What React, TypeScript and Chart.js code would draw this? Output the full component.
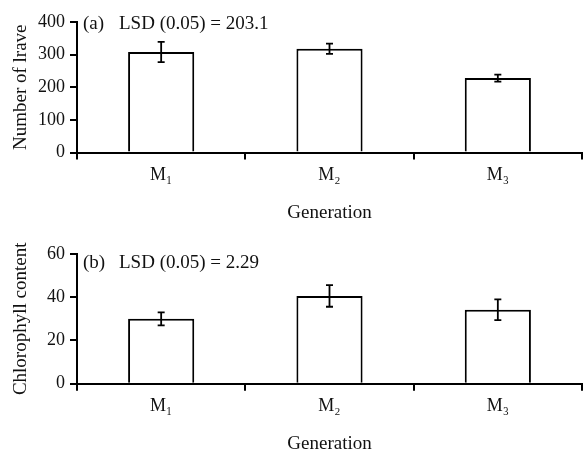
import React, { useEffect, useRef } from "react";
import { Chart, registerables } from "chart.js";
Chart.register(...registerables);

const categories = ["M₁", "M₂", "M₃"];
const larvaeMeans = [308, 318, 228];
const larvaeErrors = [31, 16, 11];
const chlorophyllMeans = [30, 40.6, 34.2];
const chlorophyllErrors = [3, 5, 4.8];
const larvaeTickStep = 100;
const larvaeMax = 400;
const chlorophyllTickStep = 20;
const chlorophyllMax = 60;
const panelTags = ["(a)", "(b)"];
const lsdTexts = ["LSD (0.05) = 203.1", "LSD (0.05) = 2.29"];
const yTitles = ["Number of lrave", "Chlorophyll content"];
const xTitle = "Generation";

const FONT = "'Liberation Serif', 'Times New Roman', serif";
const INK = "#111";

const errorBarPlugin = {
  id: "errorBars",
  afterDatasetsDraw(chart: any, _args: any, opts: any) {
    const meta = chart.getDatasetMeta(0);
    const ds = chart.data.datasets[0];
    const y = chart.scales.y;
    const ctx = chart.ctx;
    ctx.save();
    ctx.strokeStyle = "#000";
    ctx.lineWidth = 1.8;
    meta.data.forEach((el: any, i: number) => {
      const v = ds.data[i];
      const e = opts.errors[i];
      const x = el.x;
      const yt = y.getPixelForValue(v + e);
      const yb = y.getPixelForValue(v - e);
      ctx.beginPath();
      ctx.moveTo(x, yt);
      ctx.lineTo(x, yb);
      ctx.moveTo(x - 3.5, yt);
      ctx.lineTo(x + 3.5, yt);
      ctx.moveTo(x - 3.5, yb);
      ctx.lineTo(x + 3.5, yb);
      ctx.stroke();
    });
    ctx.restore();
  },
};

const panelLabelPlugin = {
  id: "panelLabel",
  afterDraw(chart: any, _args: any, opts: any) {
    const ctx = chart.ctx;
    const { left, top } = chart.chartArea;
    ctx.save();
    ctx.fillStyle = INK;
    ctx.font = `19px ${FONT}`;
    ctx.textBaseline = "alphabetic";
    ctx.textAlign = "left";
    ctx.fillText(opts.tag, left + 6, top + opts.dy);
    ctx.fillText(opts.text, left + 42, top + opts.dy);
    ctx.restore();
  },
};

function makeConfig(
  values: number[],
  errors: number[],
  max: number,
  step: number,
  yTitle: string,
  tag: string,
  lsd: string,
  padTop: number,
  xHeight: number,
  xTitlePadBottom: number,
  labelDy: number
): any {
  return {
    type: "bar",
    data: {
      labels: categories,
      datasets: [
        {
          data: values,
          backgroundColor: "#fff",
          borderColor: "#000",
          borderWidth: 2,
          barPercentage: 0.393,
          categoryPercentage: 1,
        },
      ],
    },
    options: {
      responsive: false,
      animation: false,
      events: [],
      layout: { padding: { top: padTop, right: 5, left: 0, bottom: 0 } },
      plugins: {
        legend: { display: false },
        tooltip: { enabled: false },
        errorBars: { errors },
        panelLabel: { tag, text: lsd, dy: labelDy },
      },
      scales: {
        x: {
          offset: true,
          grid: {
            offset: true,
            display: true,
            drawOnChartArea: false,
            drawTicks: true,
            tickLength: 7,
            color: "#000",
            lineWidth: 2,
          },
          border: { display: true, color: "#000", width: 2 },
          ticks: { color: INK, font: { family: FONT, size: 18 }, padding: 5 },
          title: {
            display: true,
            text: xTitle,
            color: INK,
            font: { family: FONT, size: 19, lineHeight: 1 },
            padding: { top: 0, bottom: xTitlePadBottom },
          },
          afterFit(scale: any) {
            scale.height = xHeight;
          },
        },
        y: {
          min: 0,
          max,
          ticks: {
            stepSize: step,
            color: INK,
            font: { family: FONT, size: 18 },
            padding: 5,
          },
          grid: {
            display: true,
            drawOnChartArea: false,
            drawTicks: true,
            tickLength: 7,
            color: "#000",
            lineWidth: 2,
          },
          border: { display: true, color: "#000", width: 2 },
          title: {
            display: true,
            text: yTitle,
            color: INK,
            font: { family: FONT, size: 19, lineHeight: 1 },
            padding: { top: 11.5, bottom: 0 },
          },
          afterFit(scale: any) {
            scale.width = 77;
          },
        },
      },
    },
    plugins: [errorBarPlugin, panelLabelPlugin],
  };
}

export default function App() {
  const refA = useRef<HTMLCanvasElement>(null);
  const refB = useRef<HTMLCanvasElement>(null);

  useEffect(() => {
    const a = new Chart(
      refA.current as HTMLCanvasElement,
      makeConfig(
        larvaeMeans,
        larvaeErrors,
        larvaeMax,
        larvaeTickStep,
        yTitles[0],
        panelTags[0],
        lsdTexts[0],
        22,
        75.5,
        5.5,
        7
      )
    );
    const b = new Chart(
      refB.current as HTMLCanvasElement,
      makeConfig(
        chlorophyllMeans,
        chlorophyllErrors,
        chlorophyllMax,
        chlorophyllTickStep,
        yTitles[1],
        panelTags[1],
        lsdTexts[1],
        26,
        71.3,
        1,
        13.7
      )
    );
    return () => {
      a.destroy();
      b.destroy();
    };
  }, []);

  return (
    <div
      style={{
        position: "fixed",
        left: 0,
        top: 0,
        width: 587,
        height: 455,
        overflow: "hidden",
        background: "#fff",
      }}
    >
      <canvas
        ref={refA}
        width={587}
        height={228}
        style={{ position: "absolute", left: 0, top: 0, display: "block" }}
      />
      <canvas
        ref={refB}
        width={587}
        height={227}
        style={{ position: "absolute", left: 0, top: 228, display: "block" }}
      />
    </div>
  );
}
